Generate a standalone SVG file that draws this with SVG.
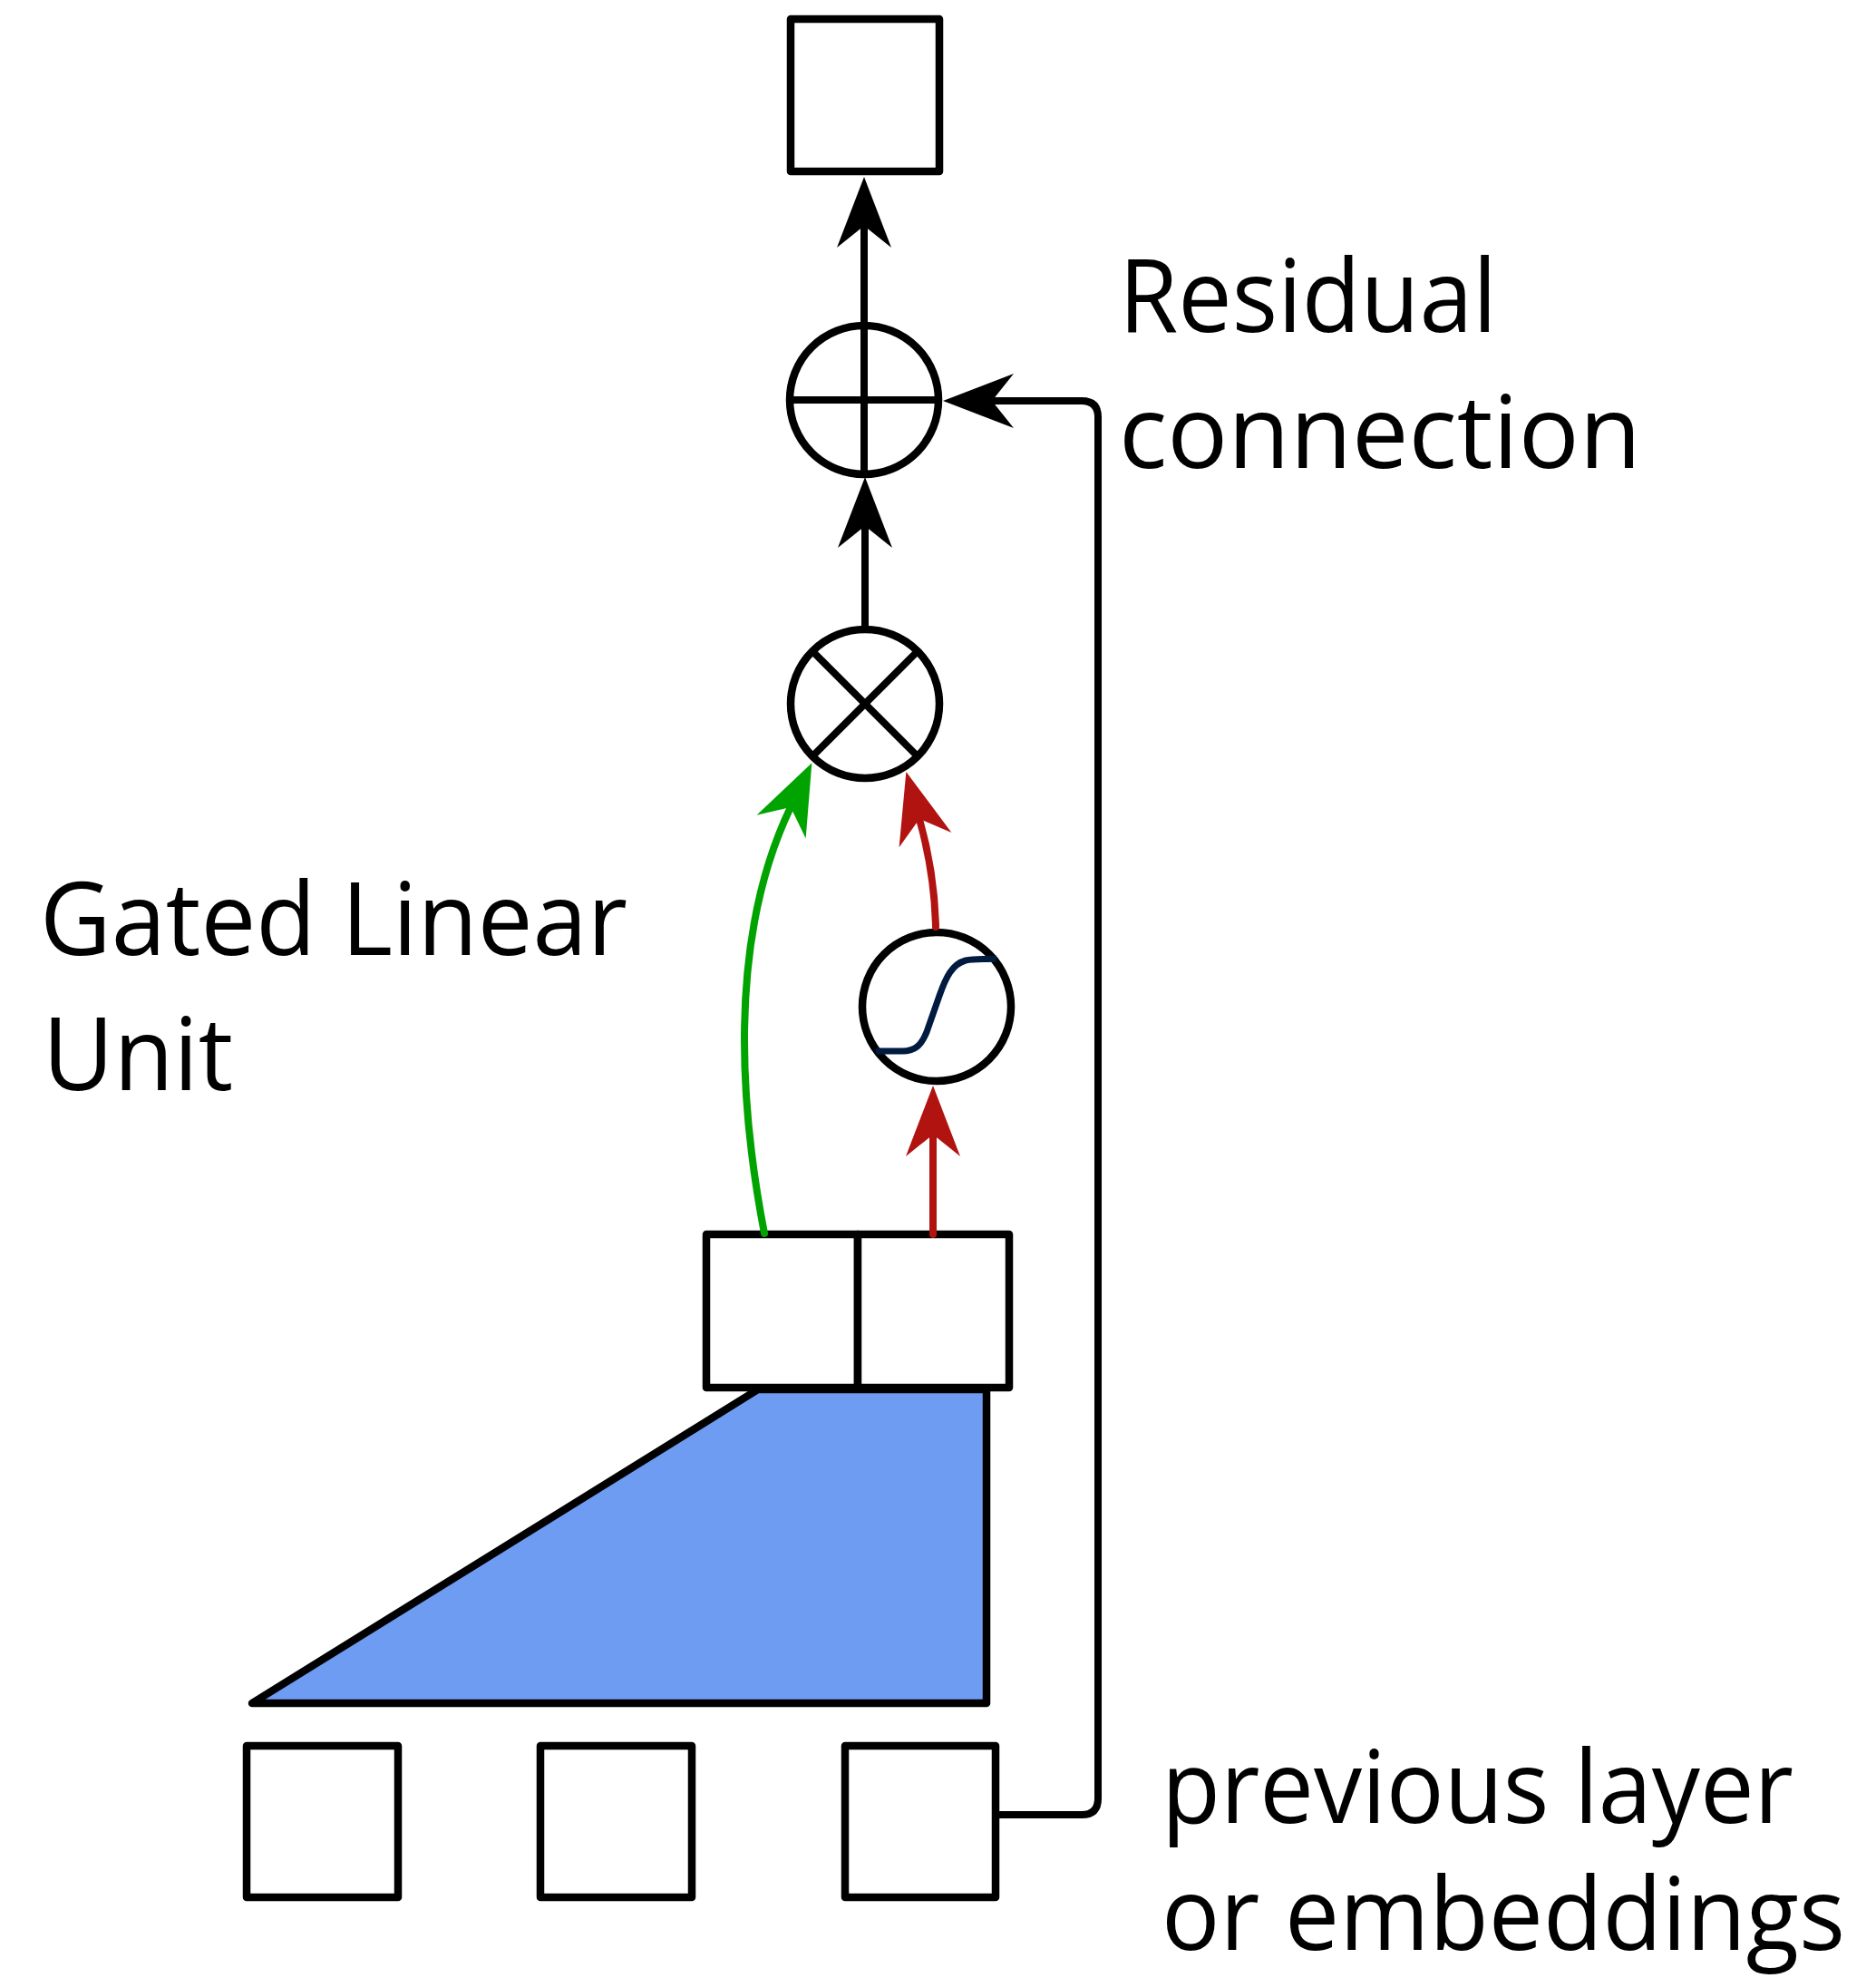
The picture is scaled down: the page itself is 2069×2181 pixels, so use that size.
<svg xmlns="http://www.w3.org/2000/svg" width="2069" height="2181" viewBox="0 0 2069 2181">
<style>
.shape{fill:#fff;stroke:#000;stroke-width:8.5;stroke-linejoin:round}
.conn{fill:none;stroke-width:8;stroke-linecap:round;stroke-linejoin:round}
.lbl{font-family:"Open Sans","Noto Sans",sans-serif;font-size:112px;fill:#000}
</style>
<defs>
<marker id="ahK" markerUnits="userSpaceOnUse" markerWidth="100" markerHeight="100" refX="0" refY="0" orient="auto" overflow="visible"><path d="M54,0 L-24,-30 L0,0 L-24,30 Z" fill="#000"/></marker>
<marker id="ahG" markerUnits="userSpaceOnUse" markerWidth="100" markerHeight="100" refX="0" refY="0" orient="auto" overflow="visible"><path d="M54,0 L-24,-30 L0,0 L-24,30 Z" fill="#00a300"/></marker>
<marker id="ahR" markerUnits="userSpaceOnUse" markerWidth="100" markerHeight="100" refX="0" refY="0" orient="auto" overflow="visible"><path d="M54,0 L-24,-30 L0,0 L-24,30 Z" fill="#b01310"/></marker>
</defs>
<rect width="2069" height="2181" fill="#fff"/>
<g id="conv">
<path d="M836,1532 L1088,1532 L1088,1878 L278,1878 Z" fill="#6d9cf2" stroke="#000" stroke-width="8.5" stroke-linejoin="round"/>
</g>
<g id="output-box"><rect class="shape" x="872" y="21" width="164" height="168"/></g>
<g id="plus">
<circle class="shape" cx="953" cy="441" r="82"/>
<line x1="871" y1="441" x2="1035" y2="441" stroke="#000" stroke-width="8"/>
<line x1="953" y1="359" x2="953" y2="523" stroke="#000" stroke-width="8"/>
</g>
<g id="times">
<circle class="shape" cx="954" cy="776" r="82"/>
<line x1="896" y1="718" x2="1012" y2="834" stroke="#000" stroke-width="8"/>
<line x1="1012" y1="718" x2="896" y2="834" stroke="#000" stroke-width="8"/>
</g>
<g id="sigmoid">
<circle class="shape" cx="1033" cy="1110" r="82"/>
<path d="M966,1159 L995,1159 C1010,1159 1016,1152 1022,1138 L1036,1098 C1043,1078 1050,1063 1065,1059 C1075,1057 1085,1058 1099,1057" fill="none" stroke="#001a40" stroke-width="7"/>
</g>
<g id="glu-boxes">
<rect class="shape" x="779" y="1361" width="167" height="169"/>
<rect class="shape" x="946" y="1361" width="167" height="169"/>
</g>
<g id="input1"><rect class="shape" x="272" y="1925" width="167" height="167"/></g>
<g id="input2"><rect class="shape" x="596" y="1925" width="167" height="167"/></g>
<g id="input3"><rect class="shape" x="932" y="1925" width="166" height="167"/></g>
<g id="connectors">
<path class="conn" d="M953,359 L953,249" stroke="#000" marker-end="url(#ahK)"/>
<path class="conn" d="M954,694 L954,580" stroke="#000" marker-end="url(#ahK)"/>
<path class="conn" d="M1098,2001 L1193,2001 Q1211,2001 1211,1983 L1211,460 Q1211,442 1193,442 L1094,442" stroke="#000" marker-end="url(#ahK)"/>
<path class="conn" d="M843,1360 C818,1230 800,1040 872,890" stroke="#00a300" marker-end="url(#ahG)"/>
<path class="conn" d="M1032,1022 C1031,975 1023,935 1014,903" stroke="#b01310" marker-end="url(#ahR)"/>
<path class="conn" d="M1029,1361 L1029,1251" stroke="#b01310" marker-end="url(#ahR)"/>
</g>
<g id="labels">
<text class="lbl" x="1234" y="366" textLength="417" lengthAdjust="spacingAndGlyphs">Residual</text>
<text class="lbl" x="1234" y="516" textLength="576" lengthAdjust="spacingAndGlyphs">connection</text>
<text class="lbl" x="44" y="1053" textLength="648" lengthAdjust="spacingAndGlyphs">Gated Linear</text>
<text class="lbl" x="47" y="1202" textLength="210" lengthAdjust="spacingAndGlyphs">Unit</text>
<text class="lbl" x="1281" y="2010" textLength="697" lengthAdjust="spacingAndGlyphs">previous layer</text>
<text class="lbl" x="1281" y="2150" textLength="754" lengthAdjust="spacingAndGlyphs">or embeddings</text>
</g>
</svg>
